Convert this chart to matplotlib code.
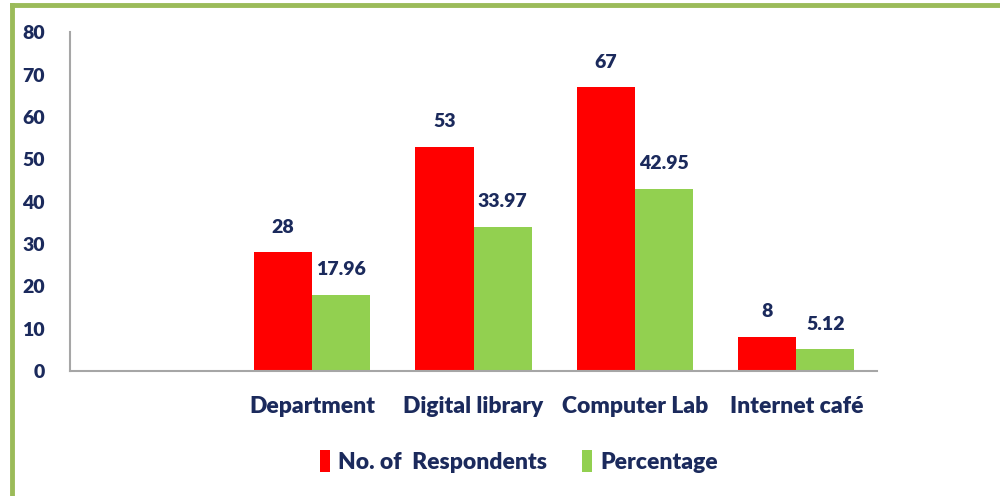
import numpy as np
import matplotlib.pyplot as plt
from matplotlib.lines import Line2D

places = ["Department", "Digital library", "Computer Lab", "Internet café"]
respondents = [28, 53, 67, 8]
percentage = [17.96, 33.97, 42.95, 5.12]
yticks = [0, 10, 20, 30, 40, 50, 60, 70, 80]

navy = '#1B2A5C'
red = '#FF0000'
green = '#92D050'

plt.rcParams['font.family'] = ['Lato', 'DejaVu Sans']
plt.rcParams['font.weight'] = 'heavy'

fig = plt.figure(figsize=(10, 4.96), dpi=100)
ax = fig.add_axes([0.07, 0.252, 0.807, 0.683])

# first slot on the axis is left empty, as in the original
x = np.arange(len(places)) + 1
width = 0.36

b1 = ax.bar(x - width / 2, respondents, width, color=red, label='No. of  Respondents')
b2 = ax.bar(x + width / 2, percentage, width, color=green, label='Percentage')

ax.bar_label(b1, labels=[str(v) for v in respondents], padding=12,
             color=navy, fontsize=14, fontweight='heavy')
ax.bar_label(b2, labels=[f'{v:.2f}' for v in percentage], padding=12,
             color=navy, fontsize=14, fontweight='heavy')

ax.set_xlim(-0.5, len(places) + 0.5)
ax.set_ylim(0, 80)
ax.set_yticks(yticks)
ax.set_xticks(x, places)
ax.tick_params(axis='both', length=0, labelcolor=navy)
ax.tick_params(axis='y', pad=18, labelsize=14)
ax.tick_params(axis='x', pad=18, labelsize=16.5)
for lab in ax.get_xticklabels() + ax.get_yticklabels():
    lab.set_fontweight('heavy')

for s in ['top', 'right']:
    ax.spines[s].set_visible(False)
for s in ['left', 'bottom']:
    ax.spines[s].set_color('#A6A6A6')
    ax.spines[s].set_linewidth(1.5)

fig.legend(loc='center', bbox_to_anchor=(0.519, 0.07), ncols=2, frameon=False,
           handlelength=0.45, handleheight=1.1, handletextpad=0.35,
           columnspacing=1.5, prop={'size': 16.5, 'weight': 'heavy'},
           labelcolor=navy)

# green frame around the chart (top and left edges visible)
frame = '#9BBB59'
fig.add_artist(Line2D([0.012, 1.0], [0.990, 0.990], color=frame, lw=3.5,
                      transform=fig.transFigure))
fig.add_artist(Line2D([0.012, 0.012], [0.0, 0.990], color=frame, lw=3.5,
                      transform=fig.transFigure))

plt.savefig('out.png', dpi=100)
